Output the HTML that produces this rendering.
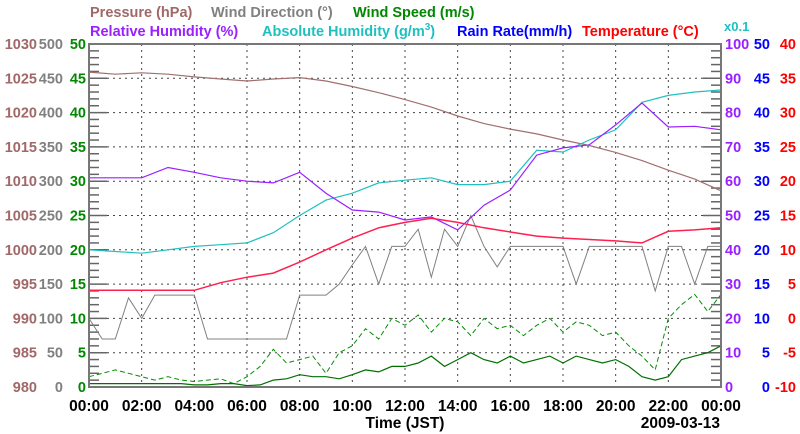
<!DOCTYPE html>
<html><head><meta charset="utf-8"><style>
body{margin:0;background:#fff}
svg{display:block;font-family:"Liberation Sans",sans-serif;font-weight:bold}
</style></head><body>
<svg id="c" width="800" height="434"></svg>
<script>
const hours = [];
for (let i = 0; i <= 48; i++) hours.push(i * 0.5);
const hourlyHours = [0,1,2,3,4,5,6,7,8,9,10,11,12,13,14,15,16,17,18,19,20,21,22,23,24];
const pressure = [1025.9,1025.6,1025.8,1025.6,1025.2,1024.9,1024.6,1024.9,1025.1,1024.6,1023.8,1022.9,1021.9,1020.8,1019.5,1018.4,1017.6,1016.9,1016.0,1015.2,1014.2,1013.0,1011.6,1010.3,1008.6];
const relHumidity = [61,61,61,64,62.6,61,60,59.5,62.6,56.5,51.6,51,48.7,49.6,45.8,53,57.4,67.6,69.7,70.6,76.4,82.8,75.8,76,75];
const absHumidity = [40,39.5,39,40,41,41.5,42,45,50,54.5,56.5,59.5,60.3,61,59,59,60,69,68.5,72,75,83,85,86,86.6];
const temperature = [4.1,4.1,4.1,4.1,4.1,5.2,6,6.6,8.2,10,11.7,13.2,14,14.6,14,13.2,12.6,12,11.7,11.5,11.3,11,12.7,12.9,13.2];
const windDir = [100,70,70,130,100,134,134,134,134,70,70,70,70,70,70,70,134,134,134,150,178,205,150,205,205,230,160,230,205,250,205,175,205,205,205,205,205,150,205,205,205,205,205,140,205,205,150,205,205];
const windSpeed = [0.5,0.5,0.5,0.5,0.5,0.5,0.5,0.5,0.3,0.3,0.5,0.5,0.2,0.3,1.0,1.2,1.8,1.5,1.5,1.2,1.8,2.5,2.2,3.0,3.0,3.5,4.5,3.0,4.0,5.0,4.0,3.5,4.5,3.5,4.0,4.5,3.5,4.5,4.0,3.5,4.0,3.0,1.5,1.0,1.5,4.0,4.5,5.0,6.0];
const windGust = [1.5,2.0,2.5,2.0,1.5,1.0,1.5,1.0,0.8,1.0,1.2,0.5,1.5,3.0,5.5,3.5,4.0,4.5,2.0,5.0,6.0,8.5,7.0,10.0,9.0,10.5,8.0,10.0,9.5,7.5,10.0,8.5,9.0,7.5,9.0,10.0,8.0,9.5,9.0,7.5,8.0,6.0,4.5,2.5,10.0,12.0,13.5,11.0,13.5];
const rainRate = [0,0,0,0,0,0,0,0,0,0,0,0,0,0,0,0,0,0,0,0,0,0,0,0,0];
const xTickLabels = ["00:00","02:00","04:00","06:00","08:00","10:00","12:00","14:00","16:00","18:00","20:00","22:00","00:00"];
const pressureTicks = [980,985,990,995,1000,1005,1010,1015,1020,1025,1030];
const dirTicks = [0,50,100,150,200,250,300,350,400,450,500];
const speedTicks = [0,5,10,15,20,25,30,35,40,45,50];
const rhTicks = [0,10,20,30,40,50,60,70,80,90,100];
const rainTicks = [0,5,10,15,20,25,30,35,40,45,50];
const tempTicks = [-10,-5,0,5,10,15,20,25,30,35,40];

const L=89,R=721,T=44,B=387;
const NS="http://www.w3.org/2000/svg";
const svg=document.getElementById('c');
function el(tag,attrs,parent){const e=document.createElementNS(NS,tag);for(const k in attrs)e.setAttribute(k,attrs[k]);(parent||svg).appendChild(e);return e;}
const x=h=>L+(R-L)*h/24;
const yLin=(min,max)=>v=>B-(B-T)*(v-min)/(max-min);
const yP=yLin(980,1030),yD=yLin(0,500),yS=yLin(0,50),yRH=yLin(0,100),yRain=yLin(0,50),yT=yLin(-10,40);

for(let i=1;i<12;i++){const g=el('line',{x1:x(i*2),x2:x(i*2),y1:T,y2:B,stroke:'#444','stroke-dasharray':'2,4','stroke-width':1});
}
for(let i=1;i<10;i++){const yy=T+(B-T)*i/10;const g=el('line',{x1:L,x2:R,y1:yy,y2:yy,stroke:'#444','stroke-dasharray':'2,4','stroke-width':1});
}
for(let i=0;i<=50;i++){const yy=T+(B-T)*i/50;const len=i%5==0?18:10;
el('line',{x1:L,x2:L+len,y1:yy,y2:yy,stroke:'#666','stroke-width':1.5});
el('line',{x1:R-len,x2:R,y1:yy,y2:yy,stroke:'#666','stroke-width':1.5});}

function line(xs,vals,sc,color,name,dash,w){
 const d=vals.map((v,i)=>(i?'L':'M')+x(xs[i]).toFixed(1)+','+sc(v).toFixed(1)).join('');
 const p=el('path',{d:d,fill:'none',stroke:color,'stroke-width':w||1.2});
 if(dash)p.setAttribute('stroke-dasharray',dash);
 
 
}
line(hourlyHours,rainRate,yRain,'#3030d0','rain-rate-line',null,2);
line(hours,windGust,yS,'#009000','wind-gust-line','5,3',1);
line(hours,windSpeed,yS,'#007000','wind-speed-line',null,1.2);
line(hours,windDir,yD,'#808080','wind-direction-line',null,1);
line(hourlyHours,pressure,yP,'#a07070','pressure-line',null,1.2);
line(hourlyHours,absHumidity,yRH,'#20c0c0','absolute-humidity-line',null,1.2);
line(hourlyHours,relHumidity,yRH,'#9a20ff','relative-humidity-line',null,1.2);
line(hourlyHours,temperature,yT,'#ff2050','temperature-line',null,1.5);

const border=el('rect',{x:L,y:T,width:R-L,height:B-T,fill:'none',stroke:'#777','stroke-width':2});


function txt(s,xx,yy,color,anchor,size,name){const t=el('text',{x:xx,y:yy,fill:color,'text-anchor':anchor||'start','font-size':size||15});t.textContent=s;
return t;}
for(let i=0;i<=10;i++){const yy=T+(B-T)*(10-i)/10+5;
 txt(pressureTicks[i],37,yy,'#a06868','end',14.5,'pressure-tick-label');
 txt(dirTicks[i],63,yy,'#808080','end',14.5,'wind-direction-tick-label');
 txt(speedTicks[i],86,yy,'#008800','end',14.5,'wind-speed-tick-label');
 txt(rhTicks[i],725,yy,'#9a20ff','start',14.5,'rh-tick-label');
 txt(rainTicks[i],770,yy,'#0000ff','end',14.5,'rain-tick-label');
 txt(tempTicks[i],796,yy,'#ff0000','end',14.5,'temperature-tick-label');}
for(let i=0;i<=12;i++) txt(xTickLabels[i],x(i*2),411,'#000','middle',15.5,'x-tick-label');
txt('Time (JST)',405,428,'#000','middle',15.5,'x-axis-title');
txt('2009-03-13',720,428,'#000','end',15.5,'date-label');
txt('Pressure (hPa)',90,17,'#a06868','start',14.5,'legend-pressure');
txt('Wind Direction (°)',211,17,'#808080','start',14.5,'legend-wind-direction');
txt('Wind Speed (m/s)',353,17,'#008800','start',14.5,'legend-wind-speed');
txt('Relative Humidity (%)',90,36,'#9a20ff','start',14.5,'legend-relative-humidity');
const ah=txt('Absolute Humidity (g/m',262,36,'#20c0c0','start',14.5,'legend-absolute-humidity');
const sup=el('tspan',{dy:-6,'font-size':10},ah);sup.textContent='3';
const cl=el('tspan',{dy:6},ah);cl.textContent=')';
txt('Rain Rate(mm/h)',457,36,'#0000ff','start',14.5,'legend-rain-rate');
txt('Temperature (°C)',582,36,'#ff0000','start',14.5,'legend-temperature');
txt('x0.1',724,31,'#20c0c0','start',13,'abs-humidity-scale-note');
</script>
</body></html>
